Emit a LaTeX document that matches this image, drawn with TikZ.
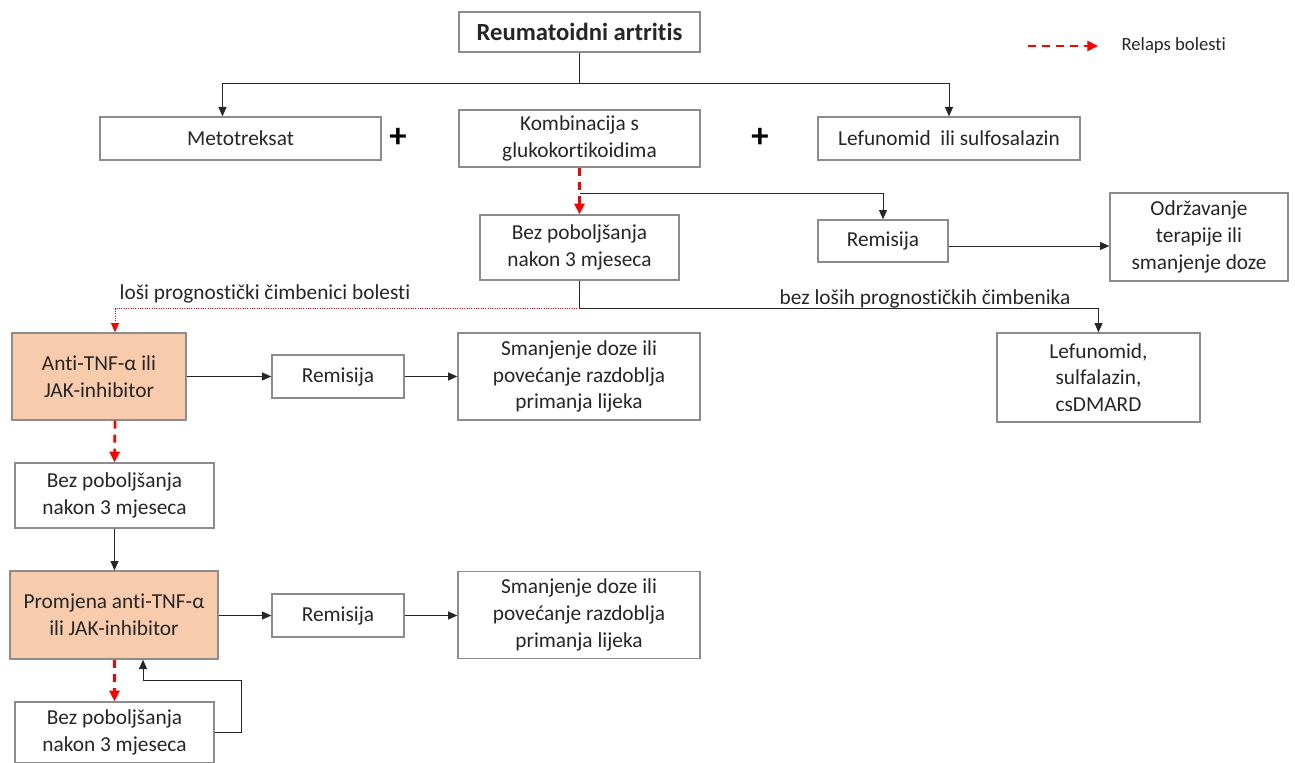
\documentclass[tikz,border=0pt]{standalone}
\usepackage{fontspec}
\setmainfont{Carlito}[Ligatures=NoCommon]
\usetikzlibrary{arrows.meta}

\definecolor{peach}{HTML}{F8CBAD}
\definecolor{boxline}{HTML}{8C8C8C}
\definecolor{txt}{HTML}{262626}

\tikzset{
  box/.style={draw=boxline, line width=1pt, fill=white, align=center, text=txt,
    inner sep=2pt, font=\fontsize{16}{20}\selectfont},
  drug/.style={box, fill=peach},
  conn/.style={line width=0.75pt, black!85},
  arr/.style={conn, -{Triangle[length=7pt, width=6pt]}},
  relaps/.style={line width=2pt, red, dash pattern=on 6pt off 4.5pt,
    -{Triangle[length=8pt, width=7.5pt]}},
  lbl/.style={text=txt, font=\fontsize{16}{20}\selectfont, inner sep=1pt},
}

\begin{document}
\begin{tikzpicture}[x=0.75pt, y=-0.75pt]
\useasboundingbox (0,0) rectangle (1295,763);

% first line of therapy
\node[box, minimum width=180.75pt, minimum height=30pt, font=\fontsize{18.5}{22}\selectfont\bfseries]
  (ra) at (579.5,32) {Reumatoidni artritis};
\node[box, minimum width=210.75pt, minimum height=32.25pt] (met) at (240.5,138.5) {Metotreksat};
\node[box, minimum width=180.75pt, minimum height=42.75pt] (komb) at (579.5,138.5) {Kombinacija s\\glukokortikoidima};
\node[box, minimum width=196.5pt, minimum height=32.25pt] (lef) at (949,138.5) {Lefunomid~ ili sulfosalazin};
\node[font=\fontsize{26}{26}\selectfont\bfseries, inner sep=0pt] (plusa) at (398,138) {+};
\node[font=\fontsize{26}{26}\selectfont\bfseries, inner sep=0pt] (plusb) at (760,138) {+};

\node[box, minimum width=149.25pt, minimum height=48.75pt] (bez) at (579.5,247.5) {Bez poboljšanja\\nakon 3 mjeseca};
\node[box, minimum width=97.5pt, minimum height=31.5pt] (rem) at (883,241) {Remisija};
\node[box, minimum width=133.5pt, minimum height=66pt] (odr) at (1199,237) {Održavanje\\terapije ili\\smanjenje doze};

% second line
\node[drug, minimum width=130.5pt, minimum height=65.25pt] (anti) at (99,376.5) {Anti-TNF-α ili\\JAK-inhibitor};
\node[box, minimum width=99pt, minimum height=32.25pt] (remb) at (338,376.5) {Remisija};
\node[box, minimum width=181.5pt, minimum height=65.25pt] (smanj) at (579,376.5) {Smanjenje doze ili\\povećanje razdoblja\\primanja lijeka};
\node[box, minimum width=152.25pt, minimum height=66.75pt] (csd) at (1098.5,377.5) {Lefunomid,\\sulfalazin,\\csDMARD};

\node[box, minimum width=149.25pt, minimum height=48.75pt] (bezb) at (114.5,495.5) {Bez poboljšanja\\nakon 3 mjeseca};

% third line
\node[drug, minimum width=156pt, minimum height=66pt] (prom) at (114,615) {Promjena anti-TNF-α\\ili JAK-inhibitor};
\node[box, minimum width=99pt, minimum height=32.25pt] (remc) at (338,615.5) {Remisija};
\node[box, minimum width=181.5pt, minimum height=65.25pt] (smanjb) at (579,615) {Smanjenje doze ili\\povećanje razdoblja\\primanja lijeka};
\node[box, minimum width=149.25pt, minimum height=45.75pt] (bezc) at (114.5,732.5) {Bez poboljšanja\\nakon 3 mjeseca};

% legend
\coordinate (lega) at (1028,46);
\coordinate (legb) at (1098,46);
\draw[relaps] (lega) -- (legb);
\node[lbl, anchor=west, font=\fontsize{14}{17}\selectfont] (leg) at (1120,46) {Relaps bolesti};

% connectors
\draw[conn] (ra.south) -- ++(0,31) coordinate (split);
\draw[arr] (split) -| ([xshift=-13.5pt]met.north);
\draw[arr] (split) -| (lef.north);

\coordinate (splitb) at (579.5,193);
\draw[arr] (splitb) -| (rem.north);
\draw[relaps] (komb.south) -- (bez.north);
\draw[arr] (rem.east |- 0,246) -- (odr.west |- 0,246);

\draw[conn] (bez.south) -- ++(0,28) coordinate (splitc);
\draw[arr] (splitc) -| (csd.north);
\draw[red, line width=0.75pt, densely dotted, -{Triangle[length=7pt, width=6pt]}] (splitc) -| ([xshift=12pt]anti.north);
\node[lbl, anchor=south] (losi) at (265,305) {loši prognostički čimbenici bolesti};
\node[lbl, anchor=south] (bezlosih) at (925,310) {bez loših prognostičkih čimbenika};

\draw[arr] (anti.east |- remb) -- (remb.west);
\draw[arr] (remb.east) -- (smanj.west |- remb);
\draw[relaps] ([xshift=12pt]anti.south) -- (bezb.north);
\draw[arr] (bezb.south) -- (bezb.south |- prom.north);

\draw[arr] (prom.east |- remc) -- (remc.west);
\draw[arr] (remc.east) -- (smanjb.west |- remc);
\draw[relaps] (prom.south -| bezc.north) -- (bezc.north);
\coordinate (back) at (143,680);
\draw[arr] (bezc.east) -- ++(27,0) |- (back) -- (back |- prom.south);

\end{tikzpicture}
\end{document}
